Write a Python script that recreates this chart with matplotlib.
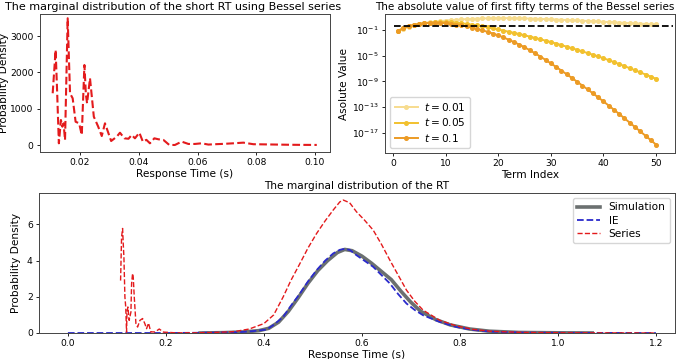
import numpy as np
import matplotlib
matplotlib.use('Agg')
import matplotlib.pyplot as plt

# --- short RT, Bessel series (top left) ---
short_t = [0.0107, 0.0117, 0.0122, 0.0128, 0.0135, 0.0140, 0.0144, 0.0149, 0.0158, 0.0166,
           0.0175, 0.0185, 0.0197, 0.0206, 0.0215, 0.0220, 0.0224, 0.0234, 0.0247, 0.0262,
           0.0274, 0.0285, 0.0306, 0.0325, 0.0336, 0.0351, 0.0365, 0.0376, 0.0387, 0.0402,
           0.0414, 0.0426, 0.0438, 0.0453, 0.0467, 0.0484, 0.0504, 0.0523, 0.0546, 0.0569,
           0.0591, 0.0614, 0.0637, 0.0660, 0.0690, 0.0722, 0.0756, 0.0790, 0.0830, 0.0870,
           0.0910, 0.0950, 0.1006]
short_pdf = [1430, 2620, 1500, 55, 695, 511, 604, 146, 3490, 1428,
             1291, 648, 604, 283, 2206, 1400, 1154, 1841, 786, 511,
             255, 604, 118, 236, 346, 192, 180, 283, 192, 346,
             99, 150, 55, 192, 165, 147, 9, 9, 101, 37,
             37, 55, 20, 30, 40, 55, 73, 30, 25, 20,
             15, 12, 10]

# --- abs value of first fifty terms (top right), log10 values ---
term_index = list(range(1, 51))
log_term_001 = [-1.25, -0.8, -0.5, -0.28, -0.1, 0.04, 0.16, 0.26, 0.35, 0.43,
                0.5, 0.56, 0.61, 0.66, 0.7, 0.73, 0.76, 0.78, 0.8, 0.81,
                0.81, 0.81, 0.8, 0.78, 0.76, 0.74, 0.72, 0.69, 0.66, 0.62,
                0.59, 0.56, 0.52, 0.49, 0.45, 0.41, 0.37, 0.33, 0.29, 0.24,
                0.2, 0.16, 0.12, 0.07, 0.03, -0.01, -0.05, -0.09, -0.12, -0.16]
log_term_005 = [-1.2, -0.78, -0.48, -0.27, -0.1, 0.02, 0.1, 0.15, 0.18, 0.2,
                0.16, 0.10, 0.02, -0.08, -0.2, -0.33, -0.47, -0.62, -0.78, -0.95,
                -1.12, -1.3, -1.48, -1.66, -1.85, -2.05, -2.26, -2.47, -2.68, -2.9,
                -3.13, -3.37, -3.61, -3.85, -4.1, -4.35, -4.61, -4.87, -5.13, -5.4,
                -5.7, -6.01, -6.32, -6.63, -6.95, -7.27, -7.6, -7.93, -8.26, -8.6]
log_term_01 = [-1.15, -0.7, -0.42, -0.22, -0.08, 0.02, 0.08, 0.1, 0.08, 0.02,
               -0.07, -0.18, -0.32, -0.48, -0.66, -0.86, -1.08, -1.32, -1.58, -1.86,
               -2.18, -2.53, -2.9, -3.29, -3.7, -4.16, -4.64, -5.14, -5.66, -6.2,
               -6.75, -7.31, -7.88, -8.46, -9.05, -9.64, -10.24, -10.85, -11.47, -12.1,
               -12.74, -13.39, -14.05, -14.72, -15.4, -16.07, -16.75, -17.43, -18.11, -18.8]
threshold = 0.42

# --- marginal distribution of the RT (bottom) ---
sim_t = [0.27, 0.32, 0.36, 0.39, 0.41, 0.43, 0.45, 0.47, 0.49, 0.51,
         0.53, 0.55, 0.565, 0.58, 0.60, 0.62, 0.64, 0.66, 0.68, 0.70,
         0.72, 0.75, 0.78, 0.82, 0.86, 0.92, 1.0, 1.07]
sim_pdf = [0.0, 0.02, 0.06, 0.13, 0.26, 0.6, 1.2, 1.95, 2.75, 3.45,
           4.0, 4.45, 4.62, 4.55, 4.25, 3.85, 3.4, 2.95, 2.3, 1.7,
           1.2, 0.75, 0.45, 0.22, 0.1, 0.03, 0.01, 0.0]

ie_t = [0.0, 0.1, 0.2, 0.3, 0.35, 0.38, 0.4055, 0.42, 0.4394, 0.455,
        0.4735, 0.49, 0.5075, 0.525, 0.5415, 0.555, 0.562, 0.575, 0.589, 0.605,
        0.623, 0.64, 0.657, 0.674, 0.691, 0.708, 0.725, 0.759, 0.793, 0.827,
        0.861, 0.93, 1.0, 1.2]
ie_pdf = [0, 0, 0, 0.02, 0.05, 0.11, 0.19, 0.45, 0.89, 1.5,
          2.18, 2.85, 3.47, 4.0, 4.4, 4.6, 4.64, 4.6, 4.3, 4.0,
          3.66, 3.2, 2.74, 2.15, 1.63, 1.27, 0.98, 0.61, 0.33, 0.17,
          0.08, 0.02, 0.01, 0.0]

series_t = [0.1075, 0.1095, 0.1116, 0.1130, 0.1143, 0.1163, 0.1180, 0.1197, 0.1205, 0.1224,
            0.1250, 0.1265, 0.1286, 0.1300, 0.1320, 0.1333, 0.1354, 0.1388, 0.1422, 0.1470,
            0.1524, 0.1570, 0.1605, 0.1646, 0.1690, 0.1780, 0.1864, 0.1950, 0.2200, 0.2600,
            0.3000, 0.3400, 0.3700, 0.4000, 0.4200, 0.4394, 0.4550, 0.4735, 0.4900, 0.5075,
            0.5250, 0.5415, 0.5550, 0.5620, 0.5750, 0.5890, 0.6050, 0.6230, 0.6400, 0.6570,
            0.6740, 0.6910, 0.7080, 0.7250, 0.7590, 0.7930, 0.8270, 0.8610, 0.9300, 1.0300,
            1.2000]
series_pdf = [2.9, 5.3, 5.78, 4.9, 4.2, 2.0, 1.44, 0.05, 1.1, 1.44,
              0.7, 0.89, 1.16, 2.74, 3.29, 3.1, 2.0, 0.52, 0.33, 0.7,
              0.8, 0.52, 0.24, 0.55, 0.06, 0.06, 0.22, 0.05, 0.01, 0.01,
              0.03, 0.08, 0.22, 0.52, 1.0, 2.0, 2.9, 3.84, 4.7, 5.5,
              6.2, 6.8, 7.25, 7.35, 7.2, 6.7, 6.25, 5.69, 4.9, 4.03,
              3.2, 2.37, 1.75, 1.26, 0.7, 0.39, 0.2, 0.1, 0.03, 0.01,
              0.0]

W, H = 685, 359
LABEL_FS = 7.6
TICK_FS = 6.6


def px_axes(fig, left, top, right, bottom):
    return fig.add_axes([left / W, 1 - bottom / H, (right - left) / W, (bottom - top) / H])


def style(ax):
    ax.tick_params(labelsize=TICK_FS, length=2.5, width=0.6, pad=2)
    for s in ax.spines.values():
        s.set_linewidth(0.7)
        s.set_color('#444444')


fig = plt.figure(figsize=(W / 100, H / 100), dpi=100)

# top left
ax1 = px_axes(fig, 40, 14, 330, 152)
ax1.plot(short_t, short_pdf, '--', color='#e31a1c', linewidth=1.5)
ax1.set_title('The marginal distribution of the short RT using Bessel series',
              fontsize=8.0, pad=3, x=0.46)
ax1.set_xlabel('Response Time (s)', fontsize=LABEL_FS, labelpad=1)
ax1.set_ylabel('Probability Density', fontsize=LABEL_FS, labelpad=1)
ax1.set_xlim(0.00638, 0.1051)
ax1.set_ylim(-184, 3607)
ax1.set_xticks([0.02, 0.04, 0.06, 0.08, 0.10])
ax1.set_yticks([0, 1000, 2000, 3000])
style(ax1)

# top right
ax2 = px_axes(fig, 385, 14, 675, 153)
term_sets = [(log_term_001, '#f7dc8e', '$t=0.01$'),
             (log_term_005, '#f2c12e', '$t=0.05$'),
             (log_term_01, '#ec9b25', '$t=0.1$')]
for vals, col, lab in term_sets:
    ax2.plot(term_index, 10 ** np.array(vals), '-o', color=col, linewidth=1.4,
             markersize=2.6, label=lab)
ax2.hlines(threshold, 0.3, 53.2, colors='black', linestyles='--', linewidth=1.3, zorder=5)
ax2.set_yscale('log')
ax2.set_xlim(-1.5, 53.6)
ax2.set_ylim(10 ** -20.1, 10 ** 1.45)
ax2.set_yticks([1e-1, 1e-5, 1e-9, 1e-13, 1e-17])
ax2.minorticks_off()
ax2.set_xticks([0, 10, 20, 30, 40, 50])
ax2.set_title('The absolute value of first fifty terms of the Bessel series',
              fontsize=7.45, pad=3, x=0.483)
ax2.set_xlabel('Term Index', fontsize=LABEL_FS, labelpad=1)
ax2.set_ylabel('Asolute Value', fontsize=LABEL_FS, labelpad=2)
ax2.legend(loc='lower left', fontsize=LABEL_FS, handlelength=2.2, borderpad=0.4,
           labelspacing=0.3, handletextpad=0.6)
style(ax2)

# bottom
ax3 = px_axes(fig, 39, 193, 675, 333)
ax3.plot(sim_t, sim_pdf, '-', color='#6b7070', linewidth=2.6, label='Simulation')
ax3.plot(ie_t, ie_pdf, '--', color='#2a2acc', linewidth=1.3, label='IE')
ax3.plot(series_t, series_pdf, '--', color='#e31a1c', linewidth=1.0, label='Series')
ax3.set_xlim(-0.059, 1.239)
ax3.set_ylim(0, 7.74)
ax3.set_xticks([0.0, 0.2, 0.4, 0.6, 0.8, 1.0, 1.2])
ax3.set_yticks([0, 2, 4, 6])
ax3.set_title('The marginal distribution of the RT', fontsize=7.6, pad=3)
ax3.set_xlabel('Response Time (s)', fontsize=LABEL_FS, labelpad=1)
ax3.set_ylabel('Probability Density', fontsize=LABEL_FS, labelpad=4)
ax3.legend(loc='upper right', fontsize=LABEL_FS, handlelength=2.2, borderpad=0.4,
           labelspacing=0.3, handletextpad=0.8)
style(ax3)

fig.savefig('out.png', dpi=100)
